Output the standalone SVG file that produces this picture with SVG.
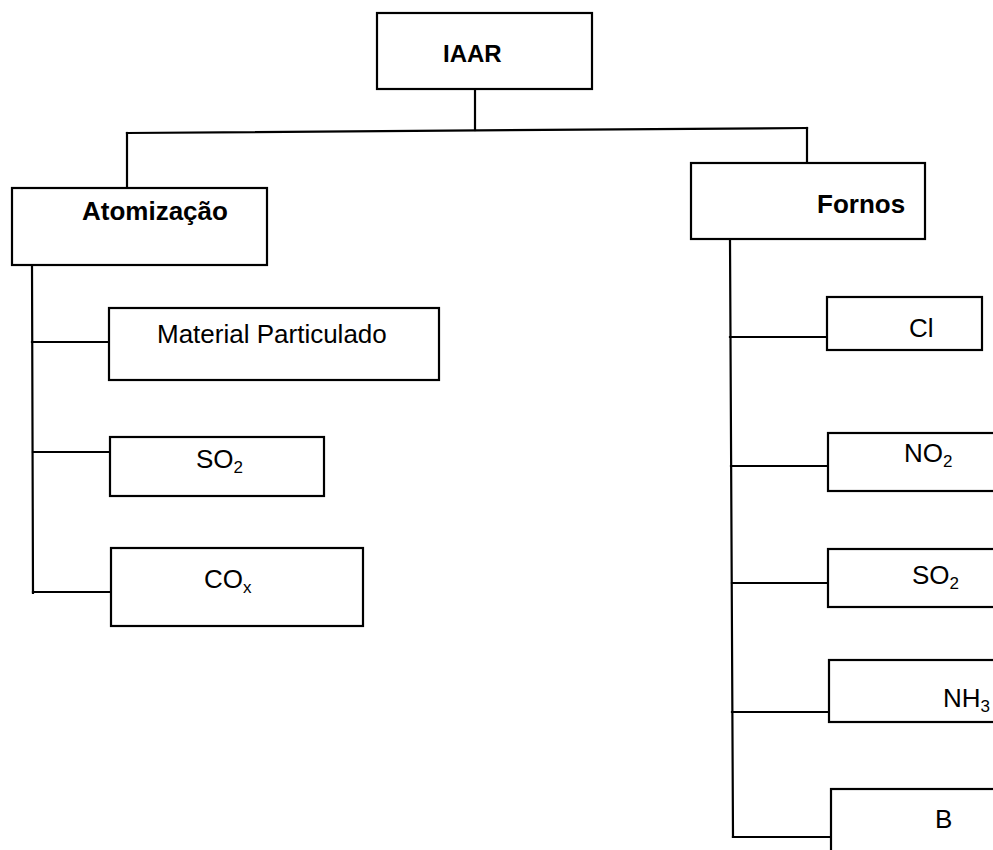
<svg xmlns="http://www.w3.org/2000/svg" width="993" height="850" viewBox="0 0 993 850">
  <style>
    .box { fill: #fff; stroke: #000; stroke-width: 2.2; }
    .wire { fill: none; stroke: #000; stroke-width: 2.2; stroke-linecap: square; }
    text { font-family: "Liberation Sans", Arial, sans-serif; font-size: 26px; fill: #000; }
    .bold { font-weight: bold; }
    .sub { font-size: 17px; }
  </style>
  <rect width="993" height="850" fill="#fff"/>

  <!-- tree connectors -->
  <g id="connectors">
    <path class="wire" d="M475,89 L475,130"/>
    <path class="wire" d="M127,133 L807,128"/>
    <path class="wire" d="M127,133 L127,188"/>
    <path class="wire" d="M807,128 L807,163"/>
    <!-- Atomização branch -->
    <path class="wire" d="M32,265 L33,593"/>
    <path class="wire" d="M32,342 L109,342"/>
    <path class="wire" d="M33,452 L110,452"/>
    <path class="wire" d="M33,592 L111,592"/>
    <!-- Fornos branch -->
    <path class="wire" d="M730,239 L733,837"/>
    <path class="wire" d="M730,337 L827,337"/>
    <path class="wire" d="M731,466 L828,466"/>
    <path class="wire" d="M732,583 L828,583"/>
    <path class="wire" d="M732,712 L829,712"/>
    <path class="wire" d="M733,837 L831,837"/>
  </g>

  <g id="iaar">
    <rect class="box" x="377" y="13" width="215" height="76"/>
    <text class="bold" x="443" y="62" style="font-size:24px">IAAR</text>
  </g>

  <g id="atomizacao">
    <rect class="box" x="12" y="188" width="255" height="77"/>
    <text class="bold" x="82" y="220">Atomização</text>
  </g>

  <g id="fornos">
    <rect class="box" x="691" y="163" width="234" height="76"/>
    <text class="bold" x="817" y="213">Fornos</text>
  </g>

  <g id="material-particulado">
    <rect class="box" x="109" y="308" width="330" height="72"/>
    <text x="157" y="343">Material Particulado</text>
  </g>

  <g id="so2-atomizacao">
    <rect class="box" x="110" y="437" width="214" height="59"/>
    <text x="196" y="468">SO<tspan class="sub" dy="5">2</tspan></text>
  </g>

  <g id="cox">
    <rect class="box" x="111" y="548" width="252" height="78"/>
    <text x="204" y="588">CO<tspan class="sub" dy="5">x</tspan></text>
  </g>

  <g id="cl">
    <rect class="box" x="827" y="297" width="155" height="53"/>
    <text x="909" y="337">Cl</text>
  </g>

  <g id="no2">
    <rect class="box" x="828" y="433" width="180" height="58"/>
    <text x="904" y="462">NO<tspan class="sub" dy="5">2</tspan></text>
  </g>

  <g id="so2-fornos">
    <rect class="box" x="828" y="549" width="180" height="58"/>
    <text x="912" y="584">SO<tspan class="sub" dy="5">2</tspan></text>
  </g>

  <g id="nh3">
    <rect class="box" x="829" y="660" width="180" height="62"/>
    <text x="943" y="707">NH<tspan class="sub" dy="5">3</tspan></text>
  </g>

  <g id="b">
    <rect class="box" x="831" y="789" width="180" height="80"/>
    <text x="935" y="828">B</text>
  </g>
</svg>
